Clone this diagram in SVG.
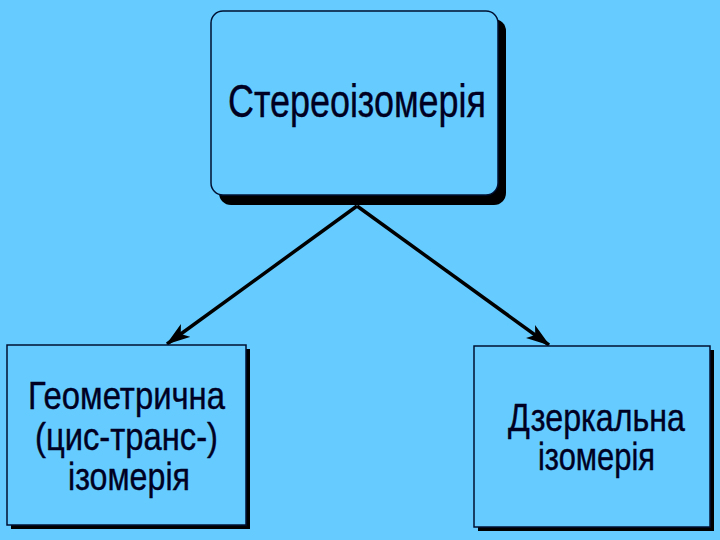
<svg xmlns="http://www.w3.org/2000/svg" width="720" height="540" viewBox="0 0 720 540">
<defs>
<style>
.box{fill:#66CCFF;stroke:#001133;stroke-width:1.5}
.sh{fill:#000000}
.t{font-family:"Liberation Sans",Arial,sans-serif;fill:#000022;text-anchor:start;stroke:#000022;stroke-width:0.4}
.c{stroke:#000000;stroke-width:3.5;fill:none}
</style>
<marker id="a" viewBox="0 0 24 16" refX="23" refY="8" markerWidth="24" markerHeight="16" markerUnits="userSpaceOnUse" orient="auto">
<path d="M0,0 L24,8 L0,16 L6,8 z" fill="#000"/>
</marker>
</defs>
<rect width="720" height="540" fill="#66CCFF"/>
<g id="connectors">
<line class="c" x1="357" y1="206" x2="167" y2="344" marker-end="url(#a)"/>
<line class="c" x1="357" y1="206" x2="549" y2="345" marker-end="url(#a)"/>
</g>
<g id="stereo">
<rect class="sh" x="219" y="19" width="287" height="186" rx="12"/>
<rect class="box" x="211" y="11" width="287" height="184" rx="12"/>
<text class="t" x="228" y="117" font-size="46" textLength="258" lengthAdjust="spacingAndGlyphs">Стереоізомерія</text>
</g>
<g id="geom">
<rect class="sh" x="11" y="349" width="239" height="180"/>
<rect class="box" x="7" y="345" width="239" height="180"/>
<text class="t" font-size="39">
<tspan x="28" y="409" textLength="197" lengthAdjust="spacingAndGlyphs">Геометрична</tspan>
<tspan x="35" y="450" textLength="183" lengthAdjust="spacingAndGlyphs">(цис-транс-)</tspan>
<tspan x="68" y="490" textLength="122" lengthAdjust="spacingAndGlyphs">ізомерія</tspan>
</text>
</g>
<g id="mirror">
<rect class="sh" x="478" y="350" width="236" height="181"/>
<rect class="box" x="474" y="346" width="236" height="181"/>
<text class="t" font-size="39">
<tspan x="508" y="431" textLength="177" lengthAdjust="spacingAndGlyphs">Дзеркальна</tspan>
<tspan x="538" y="470" textLength="117" lengthAdjust="spacingAndGlyphs">ізомерія</tspan>
</text>
</g>
</svg>
